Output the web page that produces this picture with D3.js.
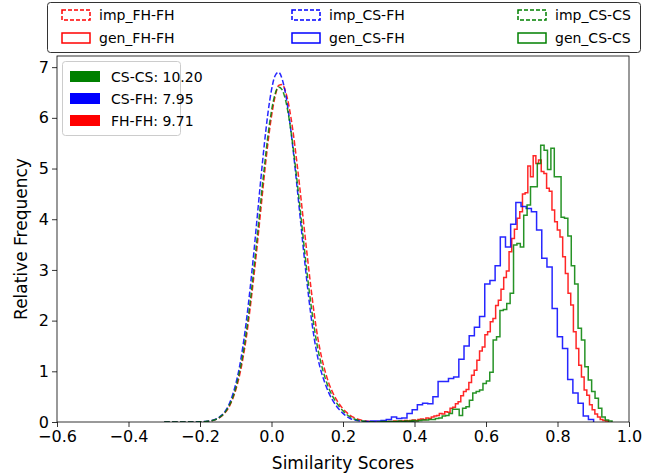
<!DOCTYPE html>
<html>
<head>
<meta charset="utf-8">
<script src="https://cdn.jsdelivr.net/npm/d3@7"></script>
<style>
body { margin: 0; background: #fff; }
svg { display: block; font-family: "DejaVu Sans", sans-serif; }
</style>
</head>
<body>
<div id="chart"></div>
<script>
// impostor score histograms, fine bins (start, step) -> relative frequency
var impStart = -0.30, impStep = 0.01;
var impFHFH = [0,0,0,0,0,0,0.001,0.001,0.001,0.002,0.003,0.006,0.012,0.021,0.039,0.067,0.11,0.18,0.28,0.43,0.63,0.90,1.25,1.69,2.23,2.83,3.48,4.18,4.87,5.50,
	6.03,6.42,6.64,6.66,6.50,6.19,5.74,5.18,4.57,3.92,3.28,2.67,2.11,1.64,1.28,1.00,0.77,0.60,0.46,0.35,0.26,0.19,0.13,0.09,0.06,0.04,0.025,0.015,0.008,0.004,0.002,0.001,0,0,0,0,0,0,0,0,0];
var impCSFH = [0,0,0,0,0,0.001,0.001,0.001,0.002,0.003,0.005,0.008,0.014,0.025,0.044,0.077,0.13,0.21,0.33,0.51,0.75,1.07,1.49,2.01,2.62,3.30,4.04,4.78,5.48,6.09,
	6.55,6.83,6.90,6.76,6.45,5.98,5.40,4.74,4.05,3.36,2.71,2.12,1.63,1.25,0.97,0.76,0.58,0.44,0.33,0.24,0.17,0.11,0.07,0.045,0.028,0.017,0.01,0.006,0.003,0.002,0.001,0,0,0,0,0,0,0,0,0,0];
var impCSCS = [0,0,0,0,0,0,0.001,0.001,0.001,0.002,0.003,0.006,0.013,0.023,0.04,0.07,0.12,0.19,0.30,0.45,0.67,0.97,1.33,1.80,2.35,2.98,3.65,4.36,5.03,5.65,
	6.14,6.47,6.61,6.55,6.33,5.95,5.44,4.85,4.21,3.55,2.91,2.34,1.84,1.43,1.12,0.87,0.67,0.52,0.40,0.30,0.22,0.15,0.10,0.065,0.04,0.025,0.015,0.008,0.004,0.002,0.001,0,0,0,0,0,0,0,0,0,0];

// genuine score histograms: first bin edge, bin width, heights
var genFHFHStart = 0.312, genFHFHWidth = 0.0075;
var genFHFH = [0.01,0,0.01,0.01,0.02,0.01,0.02,0.02,0.03,0.02,
	0.03,0.04,0.03,0.05,0.06,0.05,0.08,0.07,0.1,0.12,
	0.13,0.17,0.16,0.2,0.19,0.27,0.29,0.36,0.4,0.52,
	0.6,0.64,0.78,0.92,1.02,1.22,1.4,1.48,1.72,1.78,
	1.98,2.04,2.3,2.4,2.62,2.85,2.98,3.36,3.62,3.8,
	4.02,4.15,4.5,4.52,5.05,4.84,5.25,5.1,5.17,4.94,
	4.9,4.61,4.55,4.18,3.95,3.79,3.65,3.26,2.93,2.54,
	2.31,1.78,1.45,1.12,0.89,0.63,0.53,0.34,0.24,0.16,
	0.1,0.05,0.03,0.02];
var genCSFHStart = 0.263, genCSFHWidth = 0.0145;
var genCSFH = [0.01,0.02,0.02,0.03,0.05,0.1,0.07,0.08,0.17,0.24,
	0.34,0.37,0.36,0.5,0.8,0.8,0.86,0.89,1.24,1.5,
	1.7,1.87,2.08,2.72,2.79,3.08,3.65,3.45,3.9,4.33,
	4.25,4.21,4.15,3.79,3.23,3.06,2.24,1.68,1.45,0.84,
	0.57,0.37,0.12,0.05];
var genCSCSStart = 0.3065, genCSCSWidth = 0.0095;
var genCSCS = [0.01,0,0.01,0.01,0.01,0.02,0.01,0.02,0.02,0.03,
	0.02,0.03,0.04,0.04,0.05,0.05,0.07,0.08,0.12,0.13,
	0.17,0.25,0.25,0.13,0.27,0.3,0.43,0.57,0.6,0.63,
	0.76,0.81,0.98,1.62,1.68,2.2,2.22,2.34,2.54,3.49,
	3.52,3.45,4.08,4.28,4.64,4.64,5.1,5.46,5.36,4.98,
	5.4,4.84,4.84,4.04,4.02,3.67,3.08,2.72,1.85,1.62,
	1.09,0.83,0.6,0.47,0.27,0.1,0.04,0.02];

var xTicks = [-0.6, -0.4, -0.2, 0.0, 0.2, 0.4, 0.6, 0.8, 1.0];
var yTicks = [0, 1, 2, 3, 4, 5, 6, 7];

var topLegend = ["imp_FH-FH", "gen_FH-FH", "imp_CS-FH", "gen_CS-FH", "imp_CS-CS", "gen_CS-CS"];
var eerLabels = ["CS-CS: 10.20", "CS-FH: 7.95", "FH-FH: 9.71"];

var red = "#ff0000", blue = "#0000ff", green = "#008000";

var width = 649, height = 473;
var margin = {top: 56, right: 20, bottom: 51, left: 57};
var plotW = width - margin.left - margin.right,
	plotH = height - margin.top - margin.bottom;

var svg = d3.select("#chart").append("svg")
	.attr("width", width)
	.attr("height", height);

var xScale = d3.scaleLinear()
	.domain([-0.6, 1.0])
	.range([0, plotW]);

var yScale = d3.scaleLinear()
	.domain([0, 7.22])
	.range([plotH, 0]);

var g = svg.append("g")
	.attr("transform", "translate(" + margin.left + "," + margin.top + ")");

g.append("clipPath").attr("id", "clip")
	.append("rect").attr("width", plotW).attr("height", plotH);

var fmt = function(d){ return d3.format(".1f")(d).replace("-", "\u2212"); };

var xAxis = g.append("g")
	.attr("transform", "translate(0," + plotH + ")")
	.call(d3.axisBottom(xScale).tickValues(xTicks).tickFormat(fmt).tickSize(5).tickPadding(4));
var yAxis = g.append("g")
	.call(d3.axisLeft(yScale).tickValues(yTicks).tickFormat(d3.format("d")).tickSize(5).tickPadding(3));

[xAxis, yAxis].forEach(function(a){
	a.select(".domain").remove();
	a.selectAll("line").attr("stroke", "#000").attr("stroke-width", 0.8);
	a.selectAll("text").attr("fill", "#000").style("font-size", "16px").style("font-family", "DejaVu Sans");
});

// impostor curves (dashed)
function impPoints(vals){
	return vals.map(function(v, i){ return [impStart + i * impStep, v]; });
}
var smooth = d3.line()
	.x(function(d){ return xScale(d[0]); })
	.y(function(d){ return yScale(d[1]); })
	.curve(d3.curveMonotoneX);

// genuine histograms (steps)
function stepPoints(start, w, vals){
	var pts = [[start, 0]];
	vals.forEach(function(v, i){ pts.push([start + i * w, v]); });
	pts.push([start + vals.length * w, 0]);
	return pts;
}
var step = d3.line()
	.x(function(d){ return xScale(d[0]); })
	.y(function(d){ return yScale(d[1]); })
	.curve(d3.curveStepAfter);

var series = [
	{pts: impPoints(impFHFH), line: smooth, color: red, dash: "5.5,2.4"},
	{pts: stepPoints(genFHFHStart, genFHFHWidth, genFHFH), line: step, color: red, dash: null},
	{pts: impPoints(impCSFH), line: smooth, color: blue, dash: "5.5,2.4"},
	{pts: stepPoints(genCSFHStart, genCSFHWidth, genCSFH), line: step, color: blue, dash: null},
	{pts: impPoints(impCSCS), line: smooth, color: green, dash: "5.5,2.4"},
	{pts: stepPoints(genCSCSStart, genCSCSWidth, genCSCS), line: step, color: green, dash: null}
];

var plot = g.append("g").attr("clip-path", "url(#clip)");
series.forEach(function(s){
	plot.append("path")
		.attr("d", s.line(s.pts))
		.attr("fill", "none")
		.attr("stroke", s.color)
		.attr("stroke-width", 1.5)
		.attr("stroke-opacity", 0.85)
		.attr("stroke-dasharray", s.dash);
});

// frame
g.append("rect")
	.attr("width", plotW).attr("height", plotH)
	.attr("fill", "none").attr("stroke", "#000").attr("stroke-width", 0.8);

// axis titles
svg.append("text")
	.attr("x", margin.left + plotW / 2).attr("y", 469)
	.attr("text-anchor", "middle").style("font-size", "17px")
	.text("Similarity Scores");
svg.append("text")
	.attr("transform", "translate(27," + (margin.top + plotH / 2) + ") rotate(-90)")
	.attr("text-anchor", "middle").style("font-size", "17px")
	.text("Relative Frequency");

// top legend (3 columns, column-wise)
var leg = svg.append("g");
leg.append("rect")
	.attr("x", 47.5).attr("y", 2.5).attr("width", 593).attr("height", 50)
	.attr("rx", 3).attr("fill", "#fff").attr("stroke", "#333").attr("stroke-width", 1);
var colX = [62, 292, 518];
var legColors = [red, red, blue, blue, green, green];
topLegend.forEach(function(name, i){
	var cx = colX[Math.floor(i / 2)], cy = i % 2 === 0 ? 10 : 33;
	leg.append("rect")
		.attr("x", cx).attr("y", cy).attr("width", 28).attr("height", 10)
		.attr("fill", "none").attr("stroke", legColors[i]).attr("stroke-width", 1.5)
		.attr("stroke-dasharray", i % 2 === 0 ? "4,2" : null);
	leg.append("text")
		.attr("x", cx + 37).attr("y", cy + 10)
		.style("font-size", "14px")
		.text(name);
});

// EER legend inside plot
var leg2 = svg.append("g");
leg2.append("rect")
	.attr("x", 62.5).attr("y", 61.5).attr("width", 118).attr("height", 74)
	.attr("rx", 3).attr("fill", "#fff").attr("fill-opacity", 0.8)
	.attr("stroke", "#ccc").attr("stroke-width", 1);
[green, blue, red].forEach(function(c, i){
	var cy = 71 + i * 22;
	leg2.append("rect")
		.attr("x", 70).attr("y", cy).attr("width", 30).attr("height", 11)
		.attr("fill", c);
	leg2.append("text")
		.attr("x", 111).attr("y", cy + 11)
		.style("font-size", "14px")
		.text(eerLabels[i]);
});
</script>
</body>
</html>
